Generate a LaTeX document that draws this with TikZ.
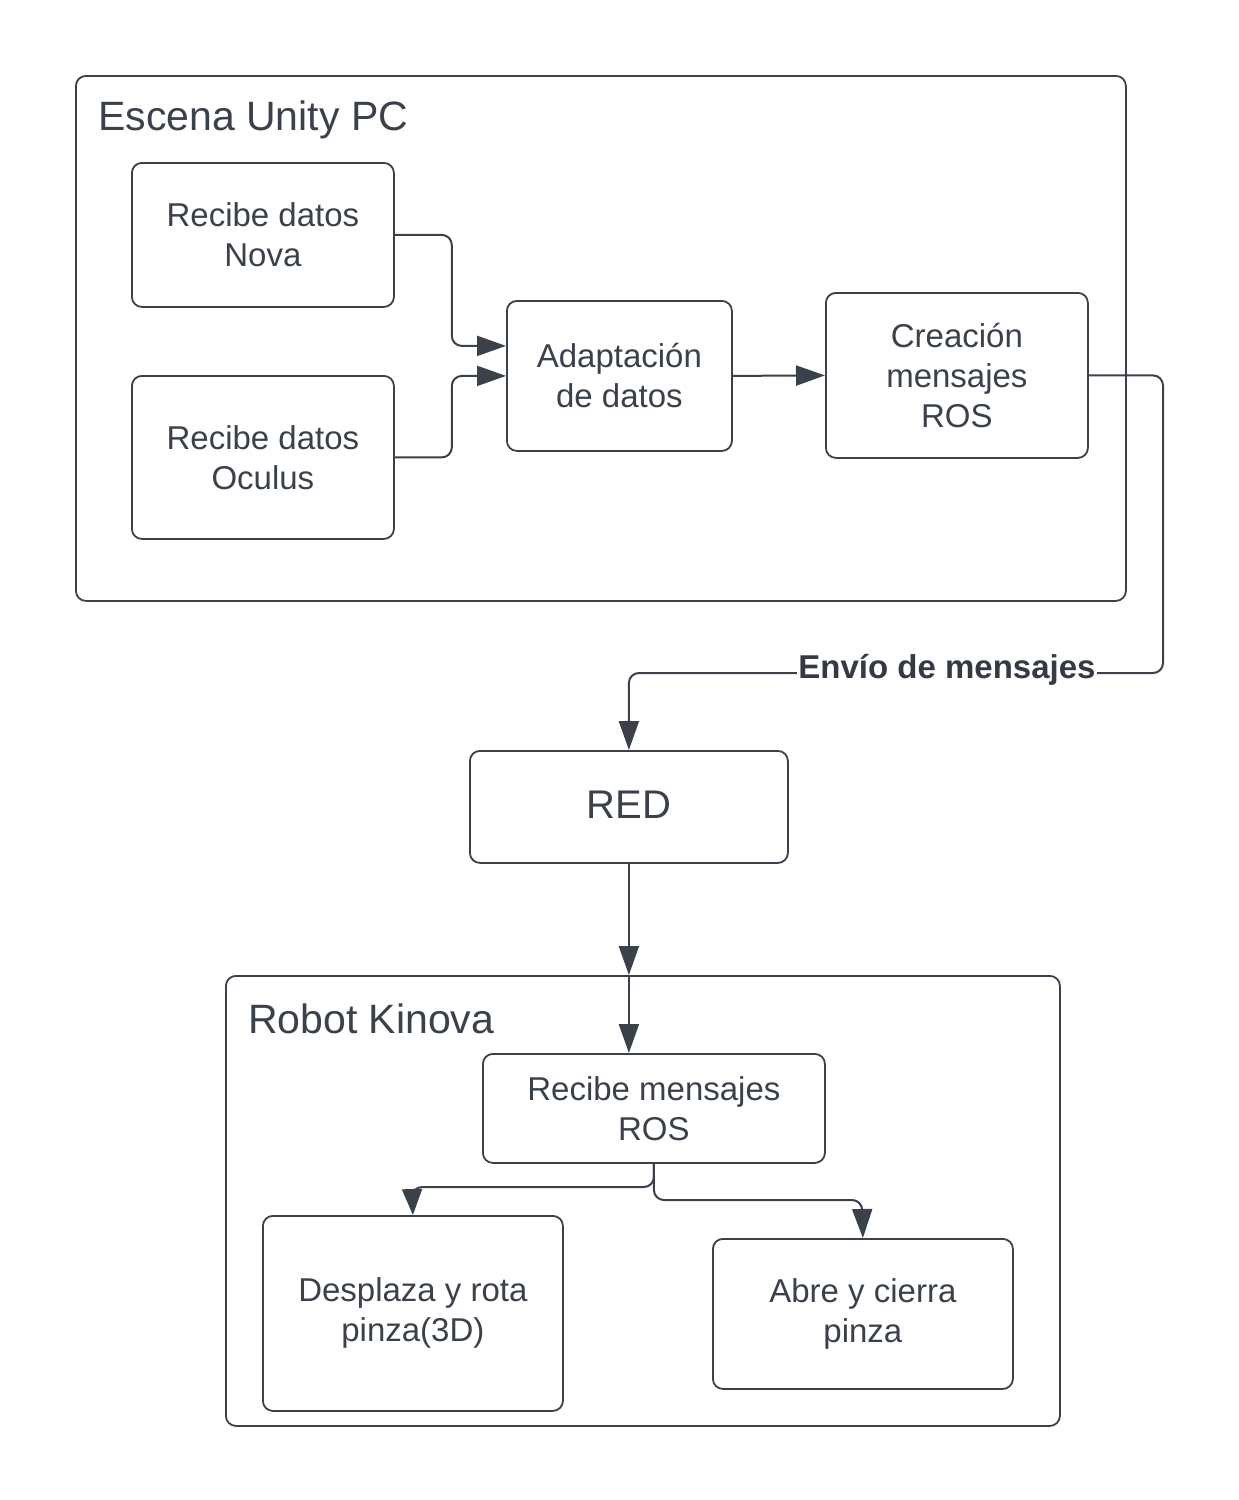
\documentclass[tikz,border=0pt]{standalone}
\usepackage{fontspec}
\setmainfont{Liberation Sans}
\usetikzlibrary{arrows.meta}
\definecolor{ink}{HTML}{3A414A}
\begin{document}
\begin{tikzpicture}[x=1pt,y=-1pt,
  box/.style={draw=ink, line width=1.8pt, rounded corners=10pt, anchor=north west,
    inner sep=0pt, align=center, text=ink, font=\fontsize{33}{40}\selectfont},
  title/.style={anchor=west, text=ink, inner sep=0pt, font=\fontsize{41}{48}\selectfont},
  conn/.style={draw=ink, line width=2pt, rounded corners=10pt,
    -{Triangle[length=29pt,width=20pt]}},
  lbl/.style={fill=white, text=ink!90!black, inner sep=1pt, font=\bfseries\fontsize{33}{38}\selectfont}]
\useasboundingbox (0,0) rectangle (1239,1500);
% containers
\node[box, minimum width=1050pt, minimum height=525pt] (pc) at (75,75) {};
\node[title] (pct) at (98,120) {Escena Unity PC};
\node[box, minimum width=834pt, minimum height=450pt] (robot) at (225,975) {};
\node[title] (robt) at (248,1019) {Robot Kinova};
% boxes
\node[box, minimum width=262pt, minimum height=144pt] (nova) at (131,162) {Recibe datos\\Nova};
\node[box, minimum width=262pt, minimum height=163pt] (oculus) at (131,375) {Recibe datos\\Oculus};
\node[box, minimum width=225pt, minimum height=150pt] (adapt) at (506,300) {Adaptación\\de datos};
\node[box, minimum width=262pt, minimum height=165pt] (crea) at (825,292) {Creación\\mensajes\\ROS};
\node[box, minimum width=318pt, minimum height=112pt, font=\fontsize{40}{46}\selectfont] (red) at (469,750) {\raisebox{5pt}{RED}};
\node[box, minimum width=342pt, minimum height=109pt] (rec) at (482,1053) {Recibe mensajes\\ROS};
\node[box, minimum width=300pt, minimum height=195pt] (des) at (262,1215) {Desplaza y rota\\pinza(3D)};
\node[box, minimum width=300pt, minimum height=150pt] (abre) at (712,1238) {Abre y cierra\\pinza};
% helper coordinates
\coordinate (c1) at (1163,673);
\coordinate (dl) at (412,1187);
\coordinate (dr) at (862,1200);
% connectors
\draw[conn] (nova.east) -- ++(57,0) |- ([yshift=30pt]adapt.west);
\draw[conn] (oculus.east) -- ++(57,0) |- (adapt.west);
\draw[conn] (adapt.east) -- (crea.west);
\draw[conn] (crea.east) -| (c1) -| (red.north);
\node[lbl] (envio) at (947,670) {Envío de mensajes};
\draw[conn] (red.south) -- (red.south |- robot.north);
\draw[conn] (red.south |- robot.north) -- (rec.north -| red.south);
\draw[conn, -{Triangle[length=26pt,width=20pt]}] (rec.south) |- (dl) -- (des.north);
\draw[conn] (rec.south) |- (dr) -- (abre.north);
\end{tikzpicture}
\end{document}
